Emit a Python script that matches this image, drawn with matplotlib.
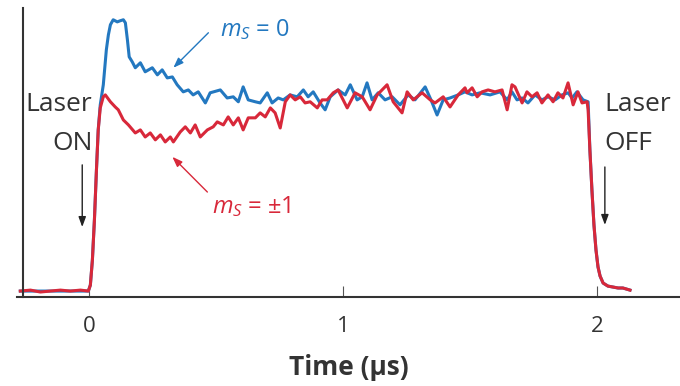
import matplotlib
matplotlib.use('Agg')
import matplotlib.pyplot as plt

# time (us) and normalized PL signal
t_red = [-0.272, -0.232, -0.193, -0.154, -0.114, -0.075, -0.035, -0.004,
         0.004, 0.012, 0.020, 0.028, 0.035, 0.043, 0.055, 0.063, 0.083, 0.102,
         0.114, 0.134, 0.154, 0.181, 0.201, 0.220, 0.240, 0.260, 0.280, 0.299,
         0.319, 0.331, 0.358, 0.378, 0.398, 0.417, 0.437, 0.465, 0.488, 0.504,
         0.528, 0.547, 0.567, 0.587, 0.606, 0.626, 0.654, 0.673, 0.693, 0.713,
         0.732, 0.752, 0.772, 0.791, 0.811, 0.831, 0.850, 0.870, 0.898, 0.917,
         0.937, 0.961, 0.980, 1.016, 1.047, 1.075, 1.106, 1.134, 1.173, 1.197,
         1.232, 1.252, 1.276, 1.311, 1.343, 1.362, 1.394, 1.421, 1.453, 1.480,
         1.488, 1.508, 1.528, 1.547, 1.571, 1.598, 1.626, 1.646, 1.665, 1.677,
         1.705, 1.724, 1.744, 1.764, 1.783, 1.807, 1.827, 1.846, 1.866, 1.886,
         1.906, 1.925, 1.941, 1.961, 1.965, 1.972, 1.980, 1.988, 1.996, 2.004,
         2.012, 2.024, 2.043, 2.063, 2.083, 2.102, 2.130]
pl_red = [0.00, 0.005, -0.005, 0.00, 0.005, 0.00, 0.005, 0.00,
          0.031, 0.162, 0.372, 0.634, 0.843, 0.958, 1.016, 1.026, 0.990, 0.963,
          0.948, 0.895, 0.869, 0.827, 0.843, 0.806, 0.827, 0.791, 0.817, 0.780,
          0.806, 0.780, 0.832, 0.859, 0.827, 0.869, 0.806, 0.843, 0.859, 0.885,
          0.869, 0.911, 0.869, 0.906, 0.843, 0.906, 0.906, 0.932, 0.911, 0.958,
          0.932, 0.853, 0.990, 1.026, 1.000, 1.016, 0.984, 0.990, 0.958, 1.000,
          1.000, 1.037, 1.052, 0.958, 1.037, 1.016, 0.948, 1.026, 1.079, 0.990,
          0.932, 1.042, 1.000, 1.037, 1.000, 0.984, 1.016, 0.963, 1.026, 1.063,
          1.037, 1.063, 1.016, 1.042, 1.052, 1.042, 1.052, 0.948, 1.079, 1.068,
          0.984, 1.042, 1.016, 1.037, 0.984, 1.026, 0.990, 1.037, 1.010, 1.089,
          0.974, 1.042, 0.984, 0.990, 0.948, 0.738, 0.529, 0.346, 0.215, 0.126,
          0.079, 0.042, 0.026, 0.021, 0.016, 0.016, 0.005]

t_blue = [-0.272, -0.154, -0.004, 0.004, 0.012, 0.020, 0.028, 0.035, 0.043,
          0.055, 0.067, 0.075, 0.083, 0.094, 0.110, 0.122, 0.134, 0.142, 0.150,
          0.157, 0.169, 0.181, 0.201, 0.220, 0.248, 0.268, 0.287, 0.307, 0.327,
          0.346, 0.370, 0.390, 0.409, 0.429, 0.457, 0.476, 0.516, 0.543, 0.567,
          0.587, 0.606, 0.626, 0.654, 0.673, 0.701, 0.720, 0.744, 0.764, 0.791,
          0.819, 0.843, 0.862, 0.882, 0.909, 0.929, 0.949, 0.980, 1.008, 1.028,
          1.055, 1.075, 1.094, 1.114, 1.138, 1.165, 1.193, 1.224, 1.256, 1.283,
          1.323, 1.346, 1.370, 1.394, 1.421, 1.453, 1.480, 1.508, 1.539, 1.579,
          1.618, 1.646, 1.665, 1.685, 1.705, 1.728, 1.756, 1.783, 1.807, 1.835,
          1.862, 1.886, 1.902, 1.921, 1.945, 1.965, 1.972, 1.980, 1.988, 1.996,
          2.004, 2.012, 2.024, 2.043, 2.063, 2.083, 2.102, 2.130]
pl_blue = [0.00, 0.00, 0.00, 0.031, 0.162, 0.372, 0.634, 0.843, 0.974,
           1.079, 1.262, 1.340, 1.393, 1.419, 1.408, 1.414, 1.419, 1.403, 1.314,
           1.225, 1.199, 1.168, 1.194, 1.147, 1.168, 1.131, 1.157, 1.115, 1.120,
           1.079, 1.042, 1.052, 1.026, 1.042, 0.984, 1.037, 1.052, 1.010, 1.016,
           0.990, 1.068, 1.000, 0.990, 0.984, 1.037, 0.984, 1.010, 1.000, 1.026,
           1.016, 1.052, 1.016, 1.042, 0.984, 0.948, 1.016, 1.052, 1.026, 1.079,
           1.000, 1.016, 1.089, 1.000, 1.037, 1.000, 1.016, 0.974, 1.026, 1.000,
           1.068, 1.000, 0.921, 1.000, 1.010, 1.026, 1.042, 1.026, 1.037, 1.026,
           1.042, 1.000, 1.042, 1.000, 1.010, 0.984, 1.026, 1.000, 1.016, 1.000,
           1.026, 1.037, 1.010, 1.042, 1.000, 0.990, 0.738, 0.529, 0.346, 0.215,
           0.126, 0.079, 0.042, 0.026, 0.021, 0.016, 0.016, 0.005]

x_ticks = [0, 1, 2]

blue = '#2378c0'
red = '#d8283a'
dark = '#333333'

plt.rcParams['font.family'] = ['Open Sans', 'DejaVu Sans']
plt.rcParams['mathtext.fontset'] = 'custom'
plt.rcParams['mathtext.rm'] = 'Open Sans'
plt.rcParams['mathtext.it'] = 'Open Sans:italic'

fig = plt.figure(figsize=(6.8, 3.86), dpi=100)
ax = fig.add_axes([0.025, 0.2306, 0.975, 0.7484])

ax.plot(t_blue, pl_blue, color=blue, lw=2.2, solid_joinstyle='round')
ax.plot(t_red, pl_red, color=red, lw=2.2, solid_joinstyle='round')

ax.set_xlim(-0.285, 2.327)
ax.set_ylim(-0.031, 1.48)

for s in ['top', 'right']:
    ax.spines[s].set_visible(False)
ax.spines['left'].set_position(('data', -0.26))
ax.spines['left'].set_color(dark)
ax.spines['bottom'].set_color(dark)
ax.spines['left'].set_linewidth(1.5)
ax.spines['bottom'].set_linewidth(1.5)

ax.set_yticks([])
ax.set_xticks(x_ticks)
ax.tick_params(axis='x', direction='in', length=8, width=0.8, color='#555555',
               labelsize=16, labelcolor=dark, pad=14)
ax.set_xlabel('Time (µs)', fontsize=19, fontweight='bold', color=dark, labelpad=12)

arrow = dict(arrowstyle='-|>,head_length=0.6,head_width=0.22', lw=1.0,
             shrinkA=0, shrinkB=0)

ax.text(0.516, 1.366, r'$m_S$ = 0', color=blue, fontsize=17, va='center', ha='left')
ax.annotate('', xy=(0.331, 1.168), xytext=(0.469, 1.351),
            arrowprops=dict(arrow, color=blue))

ax.text(0.484, 0.440, r'$m_S$ = ±1', color=red, fontsize=17, va='center', ha='left')
ax.annotate('', xy=(0.327, 0.702), xytext=(0.465, 0.518),
            arrowprops=dict(arrow, color=red))

ax.text(0.012, 0.974, 'Laser', color=dark, fontsize=19, va='center', ha='right')
ax.text(0.012, 0.770, 'ON', color=dark, fontsize=19, va='center', ha='right')
ax.annotate('', xy=(-0.028, 0.335), xytext=(-0.028, 0.660),
            arrowprops=dict(arrow, color='#222222'))

ax.text(2.031, 0.974, 'Laser', color=dark, fontsize=19, va='center', ha='left')
ax.text(2.031, 0.770, 'OFF', color=dark, fontsize=19, va='center', ha='left')
ax.annotate('', xy=(2.031, 0.346), xytext=(2.031, 0.649),
            arrowprops=dict(arrow, color='#222222'))

fig.savefig('out.png', dpi=100)
